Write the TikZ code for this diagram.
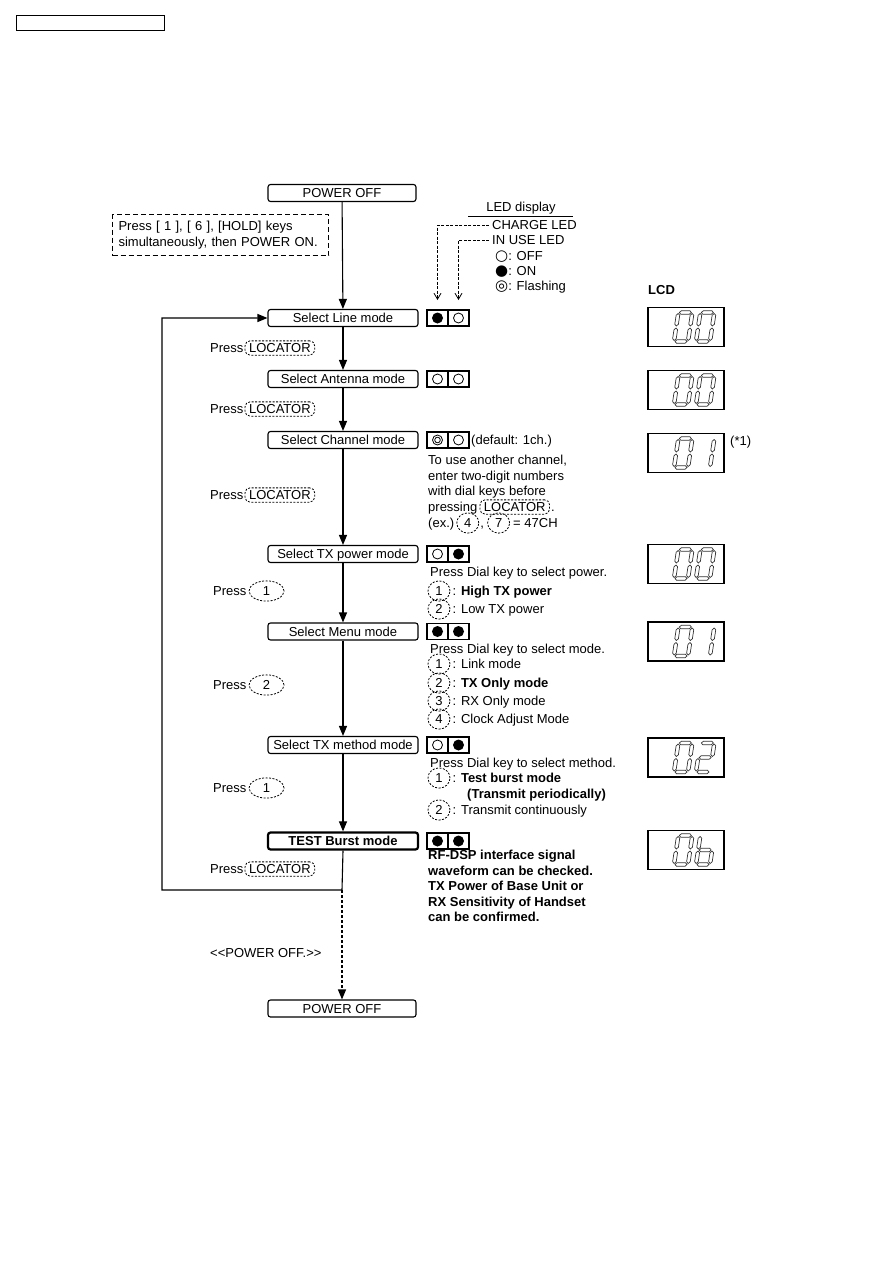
\documentclass[tikz,border=0pt]{standalone}
\usepackage{fontspec}
\setmainfont{Liberation Sans}
\newfontfamily\symfont{DejaVu Sans}
\usepackage{tikz}
\usetikzlibrary{shapes.geometric, arrows.meta, positioning, calc}
\tikzset{
  powerbox/.style={
    rectangle, rounded corners=2.5pt, draw, line width=1.1pt,
    minimum width=148pt, minimum height=17pt, inner sep=0pt,
    text height=11.8pt, text depth=2.5pt
  },
  modebox/.style={powerbox, minimum width=150pt},
  testbox/.style={modebox, line width=2.2pt, font=\fontsize{13}{15.5}\selectfont\bfseries},
  notebox/.style={
    rectangle, draw, dash pattern=on 5pt off 3pt, line width=1.1pt,
    minimum height=41pt, text width=204pt, inner xsep=6pt, align=left
  },
  txt/.style={anchor=west, inner sep=0pt, text height=11.8pt, text depth=2.5pt},
  para/.style={anchor=north west, inner sep=0pt, align=left},
  keyloc/.style={
    rectangle, rounded corners=5pt, draw, dash pattern=on 2pt off 1.5pt, line width=0.8pt,
    inner xsep=4pt, inner ysep=0.5pt, text height=11.3pt, text depth=2pt
  },
  keynum/.style={
    ellipse, draw, dash pattern=on 2pt off 1.5pt, line width=0.8pt,
    minimum width=35pt, minimum height=20pt, inner sep=0pt,
    text height=11.8pt, text depth=2.5pt
  },
  keysm/.style={keynum, minimum width=22pt, minimum height=16pt},
  ledcell/.style={
    rectangle, draw, line width=1.1pt, outer sep=0pt,
    minimum width=21pt, minimum height=16pt, inner sep=0pt
  },
  ledoff/.style={ledcell, path picture={
    \draw[line width=0.8pt] (path picture bounding box.center) circle (5pt);}},
  ledon/.style={ledcell, path picture={
    \fill (path picture bounding box.center) circle (5.5pt);}},
  ledflash/.style={ledcell, path picture={
    \draw[line width=0.8pt] (path picture bounding box.center) circle (5pt)
      (path picture bounding box.center) circle (2.8pt);}},
  lcd/.style={rectangle, draw, line width=1.1pt, minimum width=76pt, minimum height=39pt},
  arrow/.style={line width=1.1pt, -{Triangle[length=10pt, width=8pt]}},
  dasharrow/.style={arrow, dash pattern=on 3pt off 2pt},
  legarrow/.style={line width=0.8pt, dash pattern=on 3pt off 1.5pt,
    -{Straight Barb[length=6pt, width=7pt]}},
}
\newcommand{\lcdhseg}[3]{\draw (#1,#3) -- (#1+1.8,#3+1.8) -- (#2-1.8,#3+1.8) -- (#2,#3)
  -- (#2-1.8,#3-1.8) -- (#1+1.8,#3-1.8) -- cycle;}
\newcommand{\lcdvseg}[3]{\draw (#1,#2) -- (#1+1.8,#2+1.8) -- (#1+1.8,#3-1.8) -- (#1,#3)
  -- (#1-1.8,#3-1.8) -- (#1-1.8,#2+1.8) -- cycle;}
\newcommand{\lcdsegA}{\lcdhseg{1}{13}{29}}
\newcommand{\lcdsegG}{\lcdhseg{1}{13}{14.5}}
\newcommand{\lcdsegD}{\lcdhseg{1}{13}{0}}
\newcommand{\lcdsegF}{\lcdvseg{0}{15.5}{28}}
\newcommand{\lcdsegE}{\lcdvseg{0}{1}{13.5}}
\newcommand{\lcdsegB}{\lcdvseg{14}{15.5}{28}}
\newcommand{\lcdsegC}{\lcdvseg{14}{1}{13.5}}
\newcommand{\lcddigit}[3]{%
  \begin{scope}[shift={(#1,#2)}, x=1pt, y=1pt, xslant=0.15, line width=0.7pt, draw=black!80]
    \foreach \s in {#3} {\csname lcdseg\s\endcsname}
  \end{scope}}

\begin{document}
\begin{tikzpicture}[x=1pt, y=-1pt, font=\fontsize{13}{15.5}\selectfont]
  \useasboundingbox (0,0) rectangle (893,1263);

  \node (hdr) [rectangle, draw, line width=0.9pt, minimum width=148pt, minimum height=15pt] at (90,22.5) {};

  % flow
  \node (offA)   [powerbox] at (342,193) {POWER OFF};
  \node (note)   [notebox, anchor=north west] at (112,214)
    {Press [ 1 ], [ 6 ], [HOLD] keys\\simultaneously, then POWER ON.};
  \node (line)   [modebox] at (343,318)   {Select Line mode};
  \node (ant)    [modebox] at (343,379)   {Select Antenna mode};
  \node (chan)   [modebox] at (343,440)   {Select Channel mode};
  \node (txpow)  [modebox] at (343,554)   {Select TX power mode};
  \node (menu)   [modebox] at (343,631.5) {Select Menu mode};
  \node (txmeth) [modebox] at (343,745)   {Select TX method mode};
  \node (test)   [testbox] at (343,841)   {TEST Burst mode};
  \node (offB)   [powerbox] at (342,1008.5) {POWER OFF};
  \coordinate (loopbr) at (342,890);
  \coordinate (loopbl) at (162,890);

  \draw [arrow] (offA)   -- (line);
  \draw [arrow] (line)   -- (ant);
  \draw [arrow] (ant)    -- (chan);
  \draw [arrow] (chan)   -- (txpow);
  \draw [arrow] (txpow)  -- (menu);
  \draw [arrow] (menu)   -- (txmeth);
  \draw [arrow] (txmeth) -- (test);
  \draw [arrow] (test.south) -- (loopbr) -- (loopbl) |- (line.west);
  \draw [dasharrow] (loopbr) -- (offB);

  % press labels
  \node (prA) [txt] at (210,348) {Press};
  \node (prAk) [keyloc, right=1pt of prA] {LOCATOR};
  \node (prB) [txt] at (210,409) {Press};
  \node (prBk) [keyloc, right=1pt of prB] {LOCATOR};
  \node (prC) [txt] at (210,495) {Press};
  \node (prCk) [keyloc, right=1pt of prC] {LOCATOR};
  \node (prD) [txt] at (213,591) {Press};
  \node (prDk) [keynum, right=2pt of prD] {1};
  \node (prE) [txt] at (213,685) {Press};
  \node (prEk) [keynum, right=2pt of prE] {2};
  \node (prF) [txt] at (213,788) {Press};
  \node (prFk) [keynum, right=2pt of prF] {1};
  \node (prG) [txt] at (210,869) {Press};
  \node (prGk) [keyloc, right=1pt of prG] {LOCATOR};
  \node (pwoff) [txt] at (210,953) {\mbox{<}\mbox{<}POWER OFF.\mbox{>}\mbox{>}};

  % LED legend
  \node (ledhd) [txt, anchor=center] at (521,207) {LED display};
  \draw [line width=0.8pt] (468,216) -- (573,216);
  \node (chg) [txt] at (492,225) {CHARGE LED};
  \node (use) [txt] at (492,240) {IN USE LED};
  \node (lgoff) [txt] at (495,256) {{\symfont\fontsize{15}{15}\selectfont ○}: OFF};
  \node (lgon)  [txt] at (495,271) {{\symfont\fontsize{15}{15}\selectfont ●}: ON};
  \node (lgfl)  [txt] at (495,286) {{\symfont\fontsize{15}{15}\selectfont ◎}: Flashing};

  \node (ledA1) [ledon]    at (437.5,318) {};
  \node (ledA2) [ledoff, right=0pt of ledA1] {};
  \node (ledB1) [ledoff]   at (437.5,379) {};
  \node (ledB2) [ledoff, right=0pt of ledB1] {};
  \node (ledC1) [ledflash] at (437.5,440) {};
  \node (ledC2) [ledoff, right=0pt of ledC1] {};
  \node (ledD1) [ledoff]   at (437.5,554) {};
  \node (ledD2) [ledon, right=0pt of ledD1] {};
  \node (ledE1) [ledon]    at (437.5,631.5) {};
  \node (ledE2) [ledon, right=0pt of ledE1] {};
  \node (ledF1) [ledoff]   at (437.5,745) {};
  \node (ledF2) [ledon, right=0pt of ledF1] {};
  \node (ledG1) [ledon]    at (437.5,841) {};
  \node (ledG2) [ledon, right=0pt of ledG1] {};

  \draw [legarrow] ([xshift=-3pt]chg.west) -| ([yshift=10pt]ledA1.north);
  \draw [legarrow] ([xshift=-3pt]use.west) -| ([yshift=10pt]ledA2.north);

  % channel notes
  \node (chdef) [txt, right=2pt of ledC2] {(default: 1ch.)};
  \node (chtx) [para] at (428,455) {To use another channel,\\enter two-digit numbers\\with dial keys before};
  \node (chps) [txt] at (428,507) {pressing};
  \node (chpsk) [keyloc, right=2pt of chps] {LOCATOR};
  \node (chpsd) [txt, right=1pt of chpsk] {.};
  \node (chex) [txt] at (428,523) {(ex.)};
  \node (chk4) [keysm, right=2pt of chex] {4};
  \node (chcm) [txt, right=1pt of chk4] {,};
  \node (chk7) [keysm, right=3pt of chcm] {7};
  \node (cheq) [txt, right=3pt of chk7] {= 47CH};

  % TX power notes
  \node (pwA) [txt] at (430,572) {Press Dial key to select power.};
  \node (pwk1) [keysm] at (439,591) {1};
  \node (pwt1) [txt, right=2pt of pwk1] {: \textbf{High TX power}};
  \node (pwk2) [keysm] at (439,609) {2};
  \node (pwt2) [txt, right=2pt of pwk2] {: Low TX power};

  % menu notes
  \node (mnA) [txt] at (430,649) {Press Dial key to select mode.};
  \node (mnk1) [keysm] at (439,664) {1};
  \node (mnt1) [txt, right=2pt of mnk1] {: Link mode};
  \node (mnk2) [keysm] at (439,683) {2};
  \node (mnt2) [txt, right=2pt of mnk2] {: \textbf{TX Only mode}};
  \node (mnk3) [keysm] at (439,701) {3};
  \node (mnt3) [txt, right=2pt of mnk3] {: RX Only mode};
  \node (mnk4) [keysm] at (439,719) {4};
  \node (mnt4) [txt, right=2pt of mnk4] {: Clock Adjust Mode};

  % TX method notes
  \node (mtA) [txt] at (430,763) {Press Dial key to select method.};
  \node (mtk1) [keysm] at (439,778) {1};
  \node (mtt1) [txt, right=2pt of mtk1] {: \textbf{Test burst mode}};
  \node (mtt1b) [txt] at (467,794) {\textbf{(Transmit periodically)}};
  \node (mtk2) [keysm] at (439,810) {2};
  \node (mtt2) [txt, right=2pt of mtk2] {: Transmit continuously};

  % test burst notes
  \node (tbA) [para, font=\fontsize{13}{15.5}\selectfont\bfseries] at (428,850)
    {RF-DSP interface signal\\waveform can be checked.\\TX Power of Base Unit or\\RX Sensitivity of Handset\\can be confirmed.};

  % LCD
  \node (lcdhd) [txt, font=\fontsize{13}{15.5}\selectfont\bfseries] at (648,290) {LCD};
  \node (lcdA) [lcd] at (686,327)   {};
  \node (lcdB) [lcd] at (686,390)   {};
  \node (lcdC) [lcd] at (686,453)   {};
  \node (lcdD) [lcd] at (686,564)   {};
  \node (lcdE) [lcd] at (686,641.5) {};
  \node (lcdF) [lcd] at (686,757.5) {};
  \node (lcdG) [lcd] at (686,850)   {};
  \node (lcdnote) [txt] at (730,441) {(*1)};

  \lcddigit{674}{341.5}{A,B,C,D,E,F}
  \lcddigit{696}{341.5}{A,B,C,D,E,F}
  \lcddigit{674}{404.5}{A,B,C,D,E,F}
  \lcddigit{696}{404.5}{A,B,C,D,E,F}
  \lcddigit{674}{467.5}{A,B,C,D,E,F}
  \lcddigit{696}{467.5}{B,C}
  \lcddigit{674}{578.5}{A,B,C,D,E,F}
  \lcddigit{696}{578.5}{A,B,C,D,E,F}
  \lcddigit{674}{656}{A,B,C,D,E,F}
  \lcddigit{696}{656}{B,C}
  \lcddigit{674}{772}{A,B,C,D,E,F}
  \lcddigit{696}{772}{A,B,G,E,D}
  \lcddigit{674}{864.5}{A,B,C,D,E,F}
  \lcddigit{696}{864.5}{F,E,G,C,D}
\end{tikzpicture}
\end{document}
